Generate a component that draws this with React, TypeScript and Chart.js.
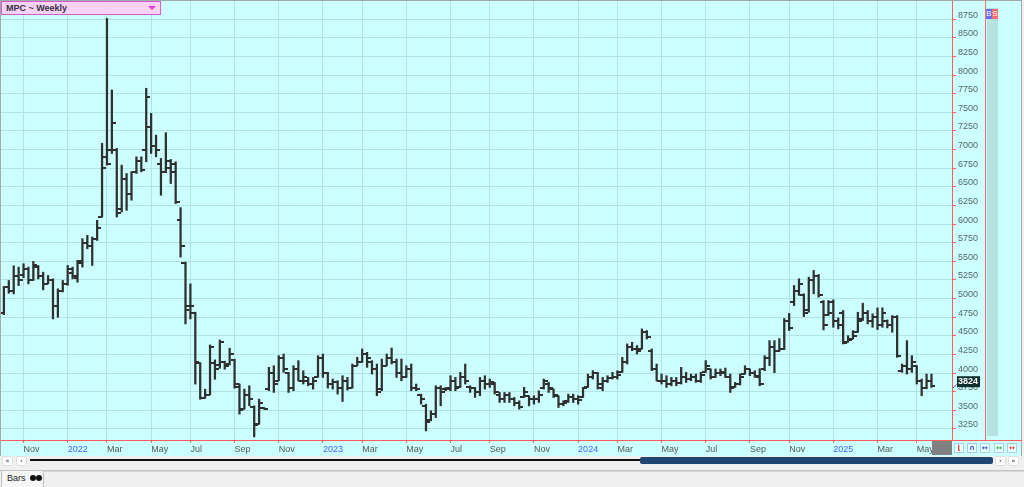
import React, { useEffect, useRef } from 'react';
import { Chart, registerables } from 'chart.js';

Chart.register(...registerables);

// Weekly bars, first bar dated (week ending) 2021-10-08
const startDate = '2021-10-08';

const opens = [
  4800, 5150, 5100, 5300, 5310, 5400, 5250, 5420, 5300, 5200,
  5250, 4900, 5100, 5200, 5350, 5280, 5500, 5750, 5700, 5800,
  6100, 6900, 7000, 7000, 6200, 6600, 6400, 6700, 6850, 7000,
  7300, 7050, 6800, 6700, 6850, 6800, 6050, 5480, 4900, 4800,
  4130, 3670, 3710, 4140, 4110, 4150, 4120, 4180, 3850, 3520,
  3700, 3540, 3320, 3530, 3780, 4000, 3900, 4200, 4000, 3800,
  4050, 3900, 3900, 3850, 3950, 4200, 4000, 3850, 3880, 3800,
  3900, 3800, 4100, 4150, 4250, 4150, 4050, 3780, 4100, 4200,
  4150, 4000, 3950, 4050, 3800, 3700, 3560, 3370, 3450, 3800,
  3780, 3800, 3900, 3820, 3950, 3820, 3800, 3750, 3900, 3850,
  3850, 3700, 3650, 3700, 3650, 3600, 3680, 3690, 3650, 3650,
  3800, 3850, 3780, 3690, 3580, 3620, 3680, 3650, 3680, 3820,
  3950, 4000, 3800, 3900, 3930, 3950, 4010, 4150, 4350, 4330,
  4330, 4550, 4300, 4050, 3900, 3900, 3850, 3900, 3870, 3950,
  3920, 3950, 3900, 4010, 4050, 3950, 4000, 4000, 3950, 3820,
  3850, 3990, 4050, 4000, 3950, 4050, 4200, 4350, 4300, 4330,
  4700, 4950, 5100, 5050, 4850, 5250, 5300, 4950, 4780, 4950,
  4700, 4800, 4420, 4460, 4550, 4720, 4800, 4700, 4750, 4650,
  4700, 4650, 4750, 4030, 4100, 4050, 4090, 3900, 3800, 3900,
];

const highs = [
  5162, 5243, 5440, 5422, 5467, 5422, 5499, 5445, 5355, 5310,
  5265, 5131, 5243, 5445, 5422, 5512, 5804, 5849, 5826, 6050,
  7083, 8760, 7800, 7015, 6791, 6679, 6701, 6903, 6903, 7823,
  7486, 7195, 6881, 7226, 6867, 6836, 6221, 5490, 5198, 4817,
  4140, 3783, 4378, 4177, 4445, 4160, 4334, 4186, 3853, 3785,
  3830, 3561, 3651, 3539, 4077, 4099, 4234, 4256, 4010, 4099,
  4167, 4032, 3942, 3942, 4234, 4256, 4010, 3920, 3897, 3965,
  3942, 4122, 4212, 4324, 4279, 4167, 4122, 4189, 4256, 4337,
  4189, 4189, 4099, 4122, 3853, 3718, 3583, 3494, 3830, 3830,
  3808, 3965, 3942, 4010, 4122, 3830, 3808, 3942, 3965, 3920,
  3875, 3740, 3740, 3740, 3673, 3628, 3808, 3696, 3696, 3763,
  3920, 3875, 3785, 3696, 3628, 3718, 3718, 3696, 3808, 3987,
  4032, 4010, 3942, 3965, 4010, 4032, 4212, 4391, 4413, 4369,
  4593, 4570, 4324, 4122, 3987, 3965, 3942, 3942, 4077, 4010,
  3987, 3987, 4010, 4167, 4055, 4055, 4055, 4068, 3987, 3875,
  3987, 4099, 4055, 4032, 4059, 4234, 4436, 4436, 4463, 4732,
  4800, 5176, 5266, 5064, 5288, 5378, 5324, 4974, 4974, 4983,
  4741, 4840, 4503, 4570, 4817, 4938, 4840, 4795, 4876, 4876,
  4714, 4772, 4772, 4122, 4436, 4234, 4099, 3920, 3987, 3987,
];

const lows = [
  4785, 5072, 5063, 5175, 5280, 5198, 5243, 5265, 5117, 5198,
  4727, 4749, 5090, 5180, 5265, 5220, 5422, 5669, 5445, 5781,
  6095, 6791, 6948, 6095, 6163, 6185, 6320, 6679, 6701, 6836,
  6948, 6903, 6387, 6690, 6544, 6275, 5557, 4660, 4727, 3852,
  3649, 3662, 3707, 3917, 4065, 4052, 4110, 3797, 3449, 3516,
  3561, 3144, 3314, 3516, 3763, 3740, 3897, 4010, 3740, 3763,
  3897, 3853, 3830, 3785, 3942, 3942, 3799, 3785, 3718, 3619,
  3772, 3799, 4099, 4144, 4077, 3987, 3696, 3763, 4099, 4122,
  3942, 3897, 3942, 3763, 3763, 3583, 3224, 3359, 3404, 3561,
  3763, 3763, 3763, 3808, 3853, 3740, 3673, 3696, 3785, 3808,
  3718, 3606, 3606, 3606, 3561, 3516, 3673, 3561, 3583, 3606,
  3785, 3740, 3673, 3539, 3561, 3606, 3606, 3583, 3673, 3808,
  3920, 3785, 3763, 3875, 3920, 3920, 4010, 4122, 4301, 4256,
  4324, 4458, 4032, 3897, 3853, 3808, 3830, 3830, 3853, 3875,
  3897, 3875, 3875, 4010, 3920, 3942, 3965, 3942, 3740, 3808,
  3840, 3987, 3965, 3942, 3830, 4032, 4100, 4005, 4290, 4315,
  4571, 4907, 5042, 4759, 4817, 5064, 5019, 4580, 4773, 4615,
  4593, 4391, 4413, 4458, 4548, 4705, 4660, 4615, 4584, 4615,
  4606, 4548, 4212, 4010, 3987, 4010, 3853, 3696, 3790, 3808,
];

const closes = [
  5150, 5100, 5300, 5250, 5400, 5250, 5450, 5300, 5200, 5250,
  4900, 5100, 5200, 5400, 5300, 5480, 5750, 5700, 5800, 5950,
  6750, 6800, 7350, 6150, 6600, 6400, 6700, 6850, 6720, 7700,
  7050, 7000, 6700, 6750, 6700, 6300, 5700, 4850, 4900, 4150,
  3660, 3710, 4350, 4050, 4420, 4100, 4250, 3810, 3500, 3700,
  3650, 3300, 3600, 3520, 4000, 3850, 4200, 4050, 3800, 4050,
  3900, 3950, 3850, 3900, 4200, 4000, 3850, 3880, 3800, 3900,
  3800, 4100, 4150, 4250, 4200, 4050, 3750, 4100, 4200, 4150,
  4000, 3950, 4050, 3800, 3780, 3650, 3350, 3450, 3800, 3750,
  3790, 3900, 3800, 3950, 3900, 3800, 3750, 3900, 3850, 3880,
  3750, 3650, 3700, 3650, 3600, 3550, 3750, 3650, 3650, 3700,
  3900, 3800, 3700, 3580, 3600, 3680, 3650, 3640, 3800, 3950,
  4000, 3850, 3900, 3930, 3950, 3980, 4150, 4350, 4330, 4300,
  4550, 4480, 4050, 3900, 3900, 3850, 3900, 3870, 3950, 3920,
  3950, 3900, 3980, 4100, 3950, 4000, 4020, 3950, 3800, 3850,
  3950, 4050, 4000, 3960, 3850, 4200, 4350, 4300, 4330, 4700,
  4600, 5100, 5200, 4800, 5250, 5300, 5050, 4650, 4800, 4700,
  4650, 4400, 4450, 4500, 4700, 4800, 4700, 4750, 4650, 4800,
  4650, 4750, 4230, 4100, 4050, 4150, 3900, 3800, 3900, 3824,
];

const monthTickLabels = [
  'Nov', '2022', 'Mar', 'May', 'Jul', 'Sep', 'Nov',
  '2023', 'Mar', 'May', 'Jul', 'Sep', 'Nov',
  '2024', 'Mar', 'May', 'Jul', 'Sep', 'Nov',
  '2025', 'Mar', 'May',
];
const monthTickDates = [
  '2021-11-05', '2022-01-07', '2022-03-04', '2022-05-06', '2022-07-01', '2022-09-02', '2022-11-04',
  '2023-01-06', '2023-03-03', '2023-05-05', '2023-07-07', '2023-09-01', '2023-11-03',
  '2024-01-05', '2024-03-01', '2024-05-03', '2024-07-05', '2024-09-06', '2024-11-01',
  '2025-01-03', '2025-03-07', '2025-05-02',
];
const priceTicks = [
  3250, 3500, 3750, 4000, 4250, 4500, 4750, 5000, 5250, 5500, 5750, 6000,
  6250, 6500, 6750, 7000, 7250, 7500, 7750, 8000, 8250, 8500, 8750,
];

const title = 'MPC ~ Weekly';
const FONT = '"Liberation Sans", Arial, sans-serif';
const WEEK_MS = 7 * 24 * 3600 * 1000;
const weekIndex = (d: string) => Math.round((Date.parse(d) - Date.parse(startDate)) / WEEK_MS);

function makeTick(side: 'left' | 'right', color: string) {
  const c = document.createElement('canvas');
  c.width = 8;
  c.height = 2;
  const g = c.getContext('2d')!;
  g.fillStyle = color;
  if (side === 'left') g.fillRect(0, 0, 4, 2);
  else g.fillRect(4, 0, 4, 2);
  return c;
}

export default function App() {
  const ref = useRef<HTMLCanvasElement>(null);

  useEffect(() => {
    const barColor = '#303030';
    const tickIdx = monthTickDates.map(weekIndex);
    const gridColor = '#b0e4e4';
    const red = '#ff5c5c';

    const lastPricePlugin = {
      id: 'lastPrice',
      afterDraw(chart: any) {
        const last = closes[closes.length - 1];
        const y = chart.scales.y.getPixelForValue(last);
        const x0 = chart.chartArea.right + 5;
        const ctx = chart.ctx;
        ctx.save();
        ctx.strokeStyle = '#557';
        ctx.lineWidth = 1;
        ctx.beginPath();
        ctx.moveTo(chart.chartArea.right + 1, y + 2);
        ctx.lineTo(x0, y - 2);
        ctx.stroke();
        ctx.fillStyle = '#10302f';
        ctx.fillRect(x0, y - 10, 23, 11);
        ctx.fillStyle = '#ffffff';
        ctx.font = `bold 9px ${FONT}`;
        ctx.textBaseline = 'middle';
        ctx.textAlign = 'left';
        ctx.fillText(String(last), x0 + 1, y - 4.5);
        ctx.restore();
      },
    };

    const chart = new Chart(ref.current!, {
      type: 'bar',
      data: {
        datasets: [
          {
            type: 'bar',
            data: highs.map((h, i) => ({ x: i, y: [lows[i], h] })) as any,
            backgroundColor: barColor,
            borderWidth: 0,
            barThickness: 1.6,
            grouped: false,
          } as any,
          {
            type: 'line',
            data: opens.map((o, i) => ({ x: i, y: o })),
            showLine: false,
            pointStyle: makeTick('left', barColor),
            pointRadius: 3,
            pointHoverRadius: 3,
          } as any,
          {
            type: 'line',
            data: closes.map((c, i) => ({ x: i, y: c })),
            showLine: false,
            pointStyle: makeTick('right', barColor),
            pointRadius: 3,
            pointHoverRadius: 3,
          } as any,
        ],
      },
      options: {
        responsive: false,
        animation: false,
        events: [],
        layout: { autoPadding: false, padding: { left: 1, top: 1, right: 0, bottom: 0 } },
        plugins: { legend: { display: false }, tooltip: { enabled: false }, title: { display: false } },
        scales: {
          x: {
            type: 'linear',
            min: -0.59,
            max: 193.18,
            offset: false,
            afterBuildTicks: (s: any) => {
              s.ticks = tickIdx.map((v) => ({ value: v }));
            },
            afterFit: (s: any) => {
              s.height = 16;
              s.paddingLeft = 0;
              s.paddingRight = 0;
            },
            ticks: {
              autoSkip: false,
              maxRotation: 0,
              minRotation: 0,
              align: 'start',
              padding: 1,
              font: { family: FONT, size: 9 },
              color: (c: any) => (/^\d{4}$/.test(monthTickLabels[c.index] || '') ? '#4a5cff' : '#555555'),
              callback: (_v: any, i: number) => monthTickLabels[i],
            },
            grid: { color: gridColor, tickColor: red, tickLength: 3, offset: false },
            border: { color: red, width: 1 },
          },
          y: {
            position: 'right',
            min: 3102,
            max: 8994,
            afterBuildTicks: (s: any) => {
              s.ticks = priceTicks.map((v) => ({ value: v }));
            },
            afterFit: (s: any) => {
              s.width = 70;
              s.paddingTop = 0;
              s.paddingBottom = 0;
            },
            ticks: {
              padding: 2,
              labelOffset: -4,
              font: { family: FONT, size: 9 },
              color: '#566464',
              callback: (v: any) => String(v),
            },
            grid: { color: gridColor, tickColor: red, tickLength: 4 },
            border: { color: red, width: 1 },
          },
        },
      } as any,
      plugins: [lastPricePlugin],
    });
    return () => chart.destroy();
  }, []);

  const abs = (l: number, t: number, w: number, h: number, extra: any = {}) => ({
    position: 'absolute' as const,
    left: l,
    top: t,
    width: w,
    height: h,
    boxSizing: 'border-box' as const,
    ...extra,
  });

  const iconBox = (l: number, glyph: string, color: string) => (
    <div
      key={l}
      style={abs(l, 443, 10, 10, {
        border: '1px solid #a8d0e0',
        background: '#e6ffff',
        color,
        fontSize: 7,
        lineHeight: '8px',
        textAlign: 'center',
        fontFamily: '"DejaVu Sans", sans-serif',
        fontWeight: 'bold',
      })}
    >
      {glyph}
    </div>
  );

  const btn = (l: number, glyph: string) => (
    <div
      key={l}
      style={abs(l, 456, 11, 10, {
        background: '#ffffff',
        border: '1px solid #dddddd',
        borderRadius: 2,
        fontSize: 7,
        lineHeight: '8px',
        textAlign: 'center',
        color: '#333',
        fontFamily: '"DejaVu Sans", sans-serif',
      })}
    >
      {glyph}
    </div>
  );

  return (
    <div style={abs(0, 0, 1024, 487, { background: '#f0f0f0', overflow: 'hidden', fontFamily: FONT })}>
      <canvas
        ref={ref}
        width={1022}
        height={456}
        style={{ position: 'absolute', left: 0, top: 0, width: 1022, height: 456, background: '#ccffff' }}
      />
      {/* frame */}
      <div style={abs(0, 0, 1022, 1, { background: '#a0a8a8' })} />
      <div style={abs(0, 0, 1, 456, { background: '#a0a8a8' })} />
      <div style={abs(1021, 0, 1, 456, { background: '#a0a8a8' })} />
      {/* title box */}
      <div
        style={abs(1, 1, 160, 14, {
          background: '#f6d2f6',
          border: '1px solid #d25ad2',
          fontSize: 9,
          fontWeight: 'bold',
          color: '#3b2c48',
          lineHeight: '12px',
          paddingLeft: 4,
        })}
      >
        {title}
        <div
          style={{
            position: 'absolute',
            right: 4,
            top: 4,
            width: 0,
            height: 0,
            borderLeft: '4px solid transparent',
            borderRight: '4px solid transparent',
            borderTop: '4px solid #e23fcb',
          }}
        />
      </div>
      {/* right side panel */}
      <div style={abs(985, 0, 1, 440, { background: '#ff6a6a' })} />
      <div style={abs(987, 8, 11, 428, { background: '#b4e2e2' })} />
      <div
        style={abs(986, 9, 6, 10, {
          background: '#6c6cf2',
          color: '#fff',
          fontSize: 8,
          lineHeight: '10px',
          textAlign: 'center',
        })}
      >
        B
      </div>
      <div
        style={abs(992, 9, 6, 10, {
          background: '#f26c6c',
          color: '#fff',
          fontSize: 8,
          lineHeight: '10px',
          textAlign: 'center',
        })}
      >
        S
      </div>
      <div style={abs(952, 440, 70, 1, { background: '#ff5c5c' })} />
      <div style={abs(932, 441, 20, 14, { background: '#808080' })} />
      {iconBox(954, '⌊', '#e53030')}
      {iconBox(967, '∩', '#3040d0')}
      {iconBox(980, '↔', '#3040d0')}
      {iconBox(994, '↔', '#30b040')}
      {iconBox(1007, '↔', '#e53030')}
      {/* scroll row */}
      {btn(2, '«')}
      {btn(16, '‹')}
      <div style={abs(30, 459, 612, 2, { background: '#111111' })} />
      <div style={abs(640, 457, 353, 7, { background: '#1f4670', borderRadius: 2 })} />
      {btn(995, '›')}
      {btn(1008, '»')}
      {/* bottom tab row */}
      <div style={abs(0, 470, 1024, 1, { background: '#c4c4c4' })} />
      <div style={abs(43, 471, 981, 1, { background: '#d8d8d8' })} />
      <div
        style={abs(1, 471, 43, 16, {
          background: '#f6f6f6',
          borderRight: '1px solid #c0c0c0',
          borderLeft: '1px solid #c0c0c0',
          fontSize: 9,
          lineHeight: '15px',
          color: '#222',
          paddingLeft: 5,
        })}
      >
        Bars{' '}
        <span style={{ display: 'inline-block', width: 6, height: 6, borderRadius: 3, background: '#111', marginLeft: 2 }} />
        <span style={{ display: 'inline-block', width: 6, height: 6, borderRadius: 3, background: '#111' }} />
      </div>
    </div>
  );
}
